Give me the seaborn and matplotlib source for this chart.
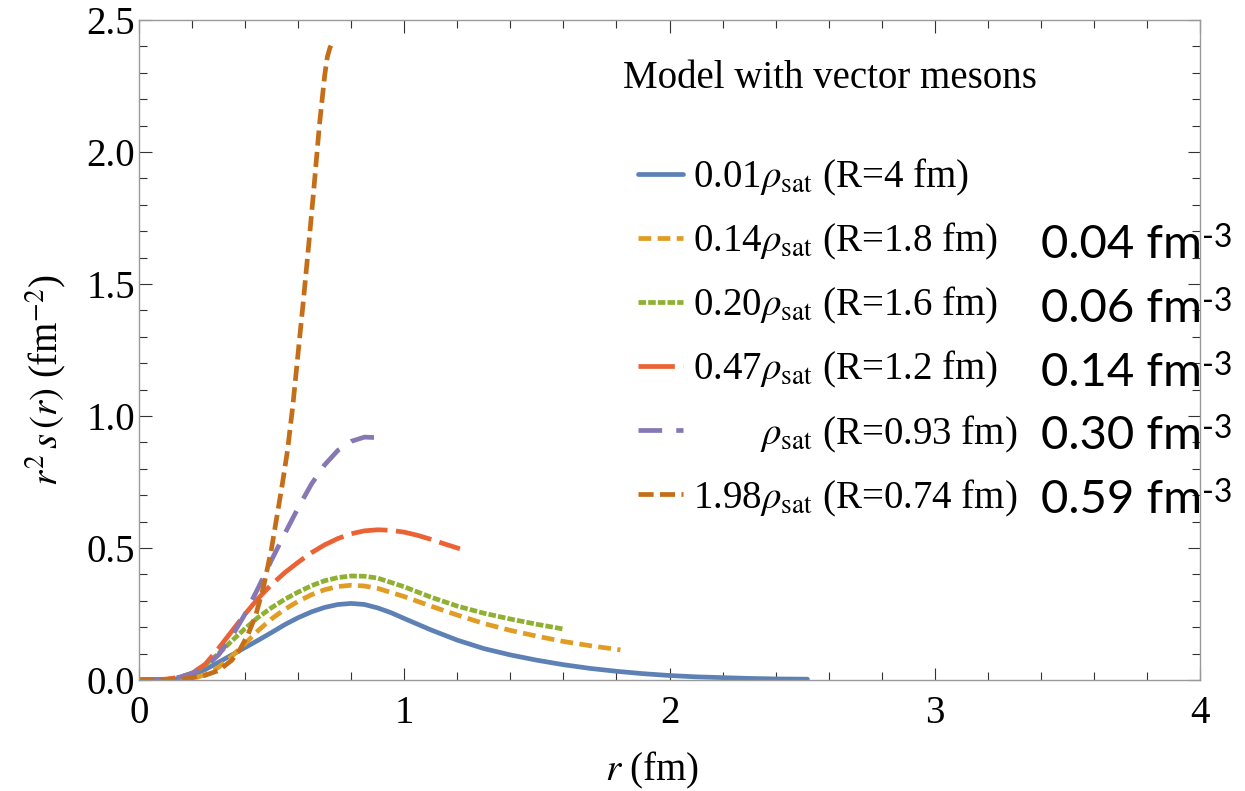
import numpy as np
import pandas as pd
import matplotlib
matplotlib.use("Agg")
import matplotlib.pyplot as plt
from matplotlib.ticker import MultipleLocator, FixedLocator, FixedFormatter
import seaborn as sns

# ---------------- data ----------------
series_names = ["0.01", "0.14", "0.20", "0.47", "1.00", "1.98"]

legend_labels = [
    r"0.01$\rho_{\rm sat}$ (R=4 fm)",
    r"0.14$\rho_{\rm sat}$ (R=1.8 fm)",
    r"0.20$\rho_{\rm sat}$ (R=1.6 fm)",
    r"0.47$\rho_{\rm sat}$ (R=1.2 fm)",
    r"       $\rho_{\rm sat}$ (R=0.93 fm)",
    r"1.98$\rho_{\rm sat}$ (R=0.74 fm)",
]

density_labels = ["0.04 fm", "0.06 fm", "0.14 fm", "0.30 fm", "0.59 fm"]

r_001 = [0, 0.1, 0.15, 0.2, 0.25, 0.3, 0.35, 0.4, 0.45, 0.5, 0.55, 0.6, 0.65, 0.7,
         0.75, 0.8, 0.85, 0.9, 0.95, 1.0, 1.1, 1.2, 1.3, 1.4, 1.5, 1.6, 1.7, 1.8,
         1.9, 2.0, 2.1, 2.2, 2.3, 2.4, 2.52]
s_001 = [0, 0.001, 0.005, 0.017, 0.04, 0.067, 0.095, 0.123, 0.151, 0.18, 0.21,
         0.236, 0.258, 0.275, 0.286, 0.29, 0.286, 0.273, 0.255, 0.233, 0.19,
         0.151, 0.119, 0.095, 0.075, 0.058, 0.044, 0.033, 0.024, 0.017, 0.012,
         0.009, 0.006, 0.004, 0.003]

r_014 = [0, 0.1, 0.15, 0.2, 0.25, 0.3, 0.35, 0.4, 0.45, 0.5, 0.55, 0.6, 0.65, 0.7,
         0.75, 0.8, 0.85, 0.9, 1.0, 1.1, 1.2, 1.3, 1.4, 1.5, 1.6, 1.7, 1.815]
s_014 = [0, 0, 0.001, 0.005, 0.02, 0.048, 0.09, 0.138, 0.188, 0.232, 0.268, 0.298,
         0.323, 0.342, 0.354, 0.359, 0.356, 0.347, 0.316, 0.28, 0.246, 0.214,
         0.188, 0.166, 0.146, 0.13, 0.114]

r_020 = [0, 0.1, 0.15, 0.2, 0.25, 0.3, 0.35, 0.4, 0.45, 0.5, 0.55, 0.6, 0.65, 0.7,
         0.75, 0.8, 0.85, 0.9, 1.0, 1.1, 1.2, 1.3, 1.4, 1.5, 1.6]
s_020 = [0, 0.002, 0.008, 0.026, 0.058, 0.10, 0.148, 0.195, 0.238, 0.274, 0.306,
         0.333, 0.357, 0.376, 0.388, 0.394, 0.393, 0.386, 0.353, 0.314, 0.28,
         0.253, 0.231, 0.211, 0.193]

r_047 = [0, 0.1, 0.15, 0.2, 0.25, 0.3, 0.35, 0.4, 0.45, 0.5, 0.55, 0.6, 0.65, 0.7,
         0.75, 0.8, 0.85, 0.9, 0.95, 1.0, 1.05, 1.1, 1.15, 1.21]
s_047 = [0, 0.003, 0.01, 0.025, 0.06, 0.12, 0.185, 0.25, 0.31, 0.362, 0.407,
         0.446, 0.482, 0.512, 0.536, 0.554, 0.565, 0.569, 0.567, 0.56, 0.548,
         0.533, 0.516, 0.497]

r_100 = [0, 0.1, 0.15, 0.2, 0.25, 0.3, 0.35, 0.4, 0.45, 0.5, 0.55, 0.6, 0.65, 0.7,
         0.75, 0.8, 0.85, 0.9, 0.92]
s_100 = [0, 0.003, 0.01, 0.025, 0.05, 0.095, 0.165, 0.25, 0.35, 0.455, 0.555,
         0.652, 0.742, 0.815, 0.87, 0.904, 0.92, 0.918, 0.912]

r_198 = [0, 0.1, 0.15, 0.2, 0.25, 0.3, 0.35, 0.38, 0.41, 0.44, 0.47, 0.5, 0.52,
         0.54, 0.56, 0.58, 0.6, 0.62, 0.64, 0.66, 0.68, 0.7, 0.71, 0.72, 0.725]
s_198 = [0, 0, 0.002, 0.008, 0.018, 0.036, 0.075, 0.115, 0.17, 0.245, 0.355, 0.5,
         0.62, 0.74, 0.87, 1.04, 1.24, 1.44, 1.65, 1.87, 2.1, 2.29, 2.36, 2.395,
         2.405]

x_ticks = [0, 1, 2, 3, 4]
x_tick_labels = ["0", "1", "2", "3", "4"]
y_ticks = [0.0, 0.5, 1.0, 1.5, 2.0, 2.5]
y_tick_labels = ["0.0", "0.5", "1.0", "1.5", "2.0", "2.5"]

# ---------------- style ----------------
colors = ["#5E81B5", "#E19C24", "#8FB032", "#EB6235", "#8778B3", "#C56E1A"]
dash_list = ["", (2.7, 1.35), (1.6, 0.45), (7.7, 1.8), (5.0, 3.0), (3.2, 1.35)]

sns.set_theme(style="ticks")
plt.rcParams.update({
    "font.family": ["Liberation Serif", "DejaVu Serif"],
    "mathtext.fontset": "stix",
    "axes.edgecolor": "#9a9a9a",
    "axes.linewidth": 1.0,
})

W, H = 1245, 791
fig = plt.figure(figsize=(W / 100, H / 100), dpi=100)
fig.patch.set_facecolor("white")
ax = fig.add_axes([139 / W, 1 - 680 / H, (1200 - 139) / W, (680 - 20) / H])

frames = []
for name, r, s in zip(series_names,
                      [r_001, r_014, r_020, r_047, r_100, r_198],
                      [s_001, s_014, s_020, s_047, s_100, s_198]):
    frames.append(pd.DataFrame({"r": r, "s": s, "series": name}))
df = pd.concat(frames, ignore_index=True)

sns.lineplot(data=df, x="r", y="s", hue="series", style="series",
             hue_order=series_names, style_order=series_names,
             palette=dict(zip(series_names, colors)),
             dashes=dict(zip(series_names, dash_list)),
             estimator=None, sort=False, linewidth=3.4, legend=False, ax=ax)

ax.set_xlim(0, 4)
ax.set_ylim(0, 2.5)
ax.xaxis.set_major_locator(FixedLocator(x_ticks))
ax.xaxis.set_major_formatter(FixedFormatter(x_tick_labels))
ax.yaxis.set_major_locator(FixedLocator(y_ticks))
ax.yaxis.set_major_formatter(FixedFormatter(y_tick_labels))
ax.xaxis.set_minor_locator(MultipleLocator(0.2))
ax.yaxis.set_minor_locator(MultipleLocator(0.1))
ax.tick_params(which="both", direction="in", top=True, right=True,
               color="#333333", width=0.8, labelsize=28, labelcolor="black")
ax.tick_params(which="major", length=9)
ax.tick_params(which="minor", length=6)
ax.tick_params(axis="x", which="major", pad=11)
ax.tick_params(axis="y", which="major", pad=3)
for sp in ax.spines.values():
    sp.set_visible(True)
    sp.set_color("#9a9a9a")

ax.set_xlabel(r"$r$ (fm)", fontsize=28, color="black")
ax.set_ylabel(r"$r^2\,s\,(r)$ (fm$^{-2}$)", fontsize=28, color="black")
ax.xaxis.set_label_coords((652 - 139) / 1061, (680 - 750) / 660)
ax.yaxis.set_label_coords((68 - 139) / 1061, (680 - 380) / 660)

# legend
handles = ax.get_lines()[:6]
leg = ax.legend(handles, legend_labels, loc="upper left",
                bbox_to_anchor=((638 - 139) / 1061, (680 - 157) / 660),
                frameon=False, fontsize=28, handlelength=1.16,
                handletextpad=0.26, labelspacing=0.59, borderpad=0,
                borderaxespad=0)
for t in leg.get_texts():
    t.set_color("black")

# title text
fig.text(623 / W, 1 - 88 / H, "Model with vector mesons", fontsize=28,
         ha="left", va="baseline", color="black")

# density annotations
row_baselines = [258, 322, 386, 449, 513]
for lab, yb in zip(density_labels, row_baselines):
    t = fig.text(1202 / W, 1 - yb / H, lab, fontsize=34, family="Lato",
                 ha="right", va="baseline", color="black")
    ax.annotate("-3", xy=(1, 1), xycoords=t, xytext=(0, 1),
                textcoords="offset points", fontsize=23, family="Lato",
                ha="left", va="top", color="black", annotation_clip=False)

fig.savefig("out.png", dpi=100, facecolor="white")
